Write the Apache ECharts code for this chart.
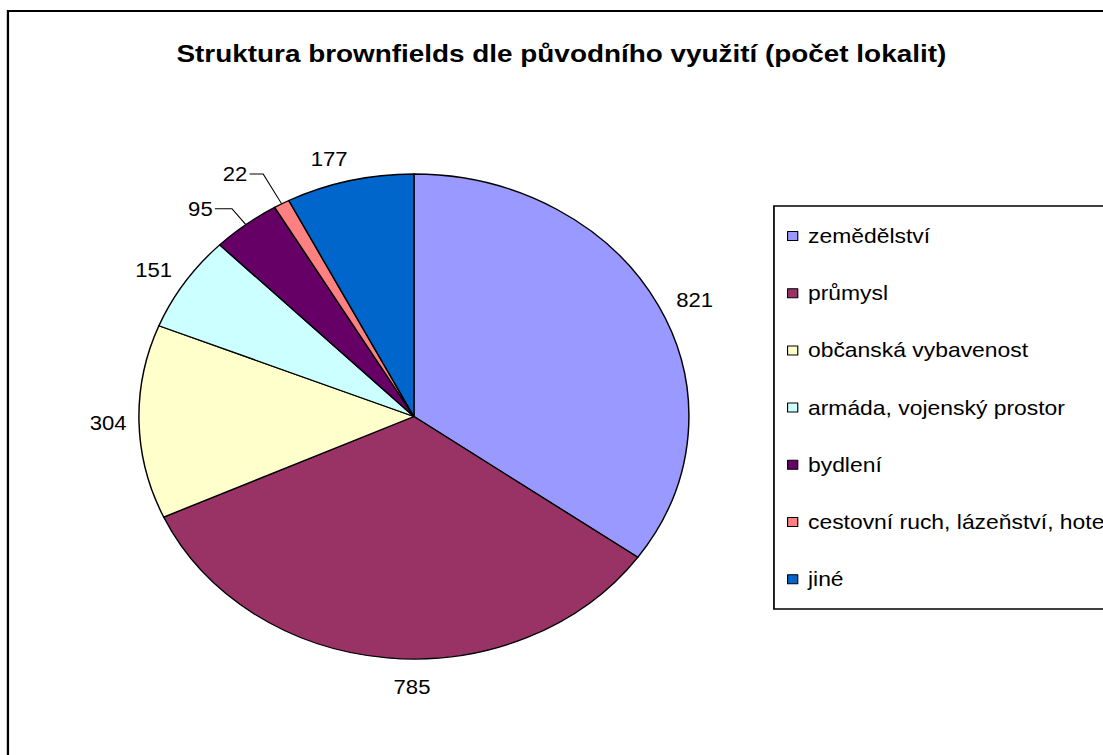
<!DOCTYPE html>
<html>
<head>
<meta charset="utf-8">
<script src="https://cdn.jsdelivr.net/npm/echarts@6/dist/echarts.min.js"></script>
<style>
html,body{margin:0;padding:0;background:#fff;overflow:hidden;}
/* the reference is stretched sideways: draw narrow, stretch with css */
#chart{position:absolute;left:0;top:0;width:973px;height:755px;transform:scaleX(1.134);transform-origin:0 0;}
</style>
</head>
<body>
<div id="chart"></div>
<script>
const title = 'Struktura brownfields dle původního využití (počet lokalit)';
const categories = ['zemědělství', 'průmysl', 'občanská vybavenost', 'armáda, vojenský prostor', 'bydlení', 'cestovní ruch, lázeňství, hotely', 'jiné'];
const values = [821, 785, 304, 151, 95, 22, 177];
const colors = ['#9999FF', '#993366', '#FFFFCC', '#CCFFFF', '#660066', '#FF8080', '#0066CC'];

const FONT = 'Arial, "Liberation Sans", sans-serif';
// leader lines only on the two small slices
const leader = {4: {length: 20, length2: 15}, 5: {length: 34, length2: 12}};
// nudges so the labels sit where excel put them
const nudge = {1: [44, 17], 2: [6, 1], 3: [4, -6], 6: [6, -10]};

const chart = echarts.init(document.getElementById('chart'), null, {renderer: 'svg'});

const data = categories.map((name, i) => {
  const item = {name: name, value: values[i], itemStyle: {color: colors[i]}};
  if (leader[i]) item.labelLine = Object.assign({show: true}, leader[i]);
  return item;
});

chart.setOption({
  backgroundColor: '#fff',
  animation: false,
  title: {
    text: title,
    left: 490,
    textAlign: 'center',
    top: 36,
    textStyle: {fontFamily: FONT, fontSize: 24.6, fontWeight: 'bold', color: '#000'}
  },
  legend: {
    orient: 'vertical',
    left: 694,
    top: 226,
    itemWidth: 9,
    itemHeight: 9,
    itemGap: 37.2,
    padding: 0,
    icon: 'rect',
    selectedMode: false,
    itemStyle: {borderColor: '#000', borderWidth: 1},
    textStyle: {fontFamily: FONT, fontSize: 20.2, lineHeight: 20, color: '#000', padding: [0, 0, 0, 4]}
  },
  graphic: [
    {type: 'rect', shape: {x: 7, y: 11, width: 1100, height: 800}, style: {fill: 'none', stroke: '#000', lineWidth: 2}},
    {type: 'rect', shape: {x: 682.5, y: 206, width: 400, height: 403}, style: {fill: 'none', stroke: '#000', lineWidth: 1.5}}
  ],
  series: [{
    type: 'pie',
    center: [365, 416.5],
    radius: 242.5,
    startAngle: 90,
    clockwise: true,
    avoidLabelOverlap: false,
    data: data,
    itemStyle: {borderColor: '#000', borderWidth: 1.3},
    label: {
      show: true,
      position: 'outside',
      formatter: '{c}',
      fontFamily: FONT,
      fontSize: 19.5,
      color: '#000',
      distanceToLabelLine: 2
    },
    labelLine: {show: false, length: 12, length2: 3, lineStyle: {color: '#000', width: 1}},
    labelLayout: function (p) {
      const n = nudge[p.dataIndex];
      return n ? {dx: n[0], dy: n[1]} : {};
    },
    emphasis: {disabled: true}
  }]
});
</script>
</body>
</html>
